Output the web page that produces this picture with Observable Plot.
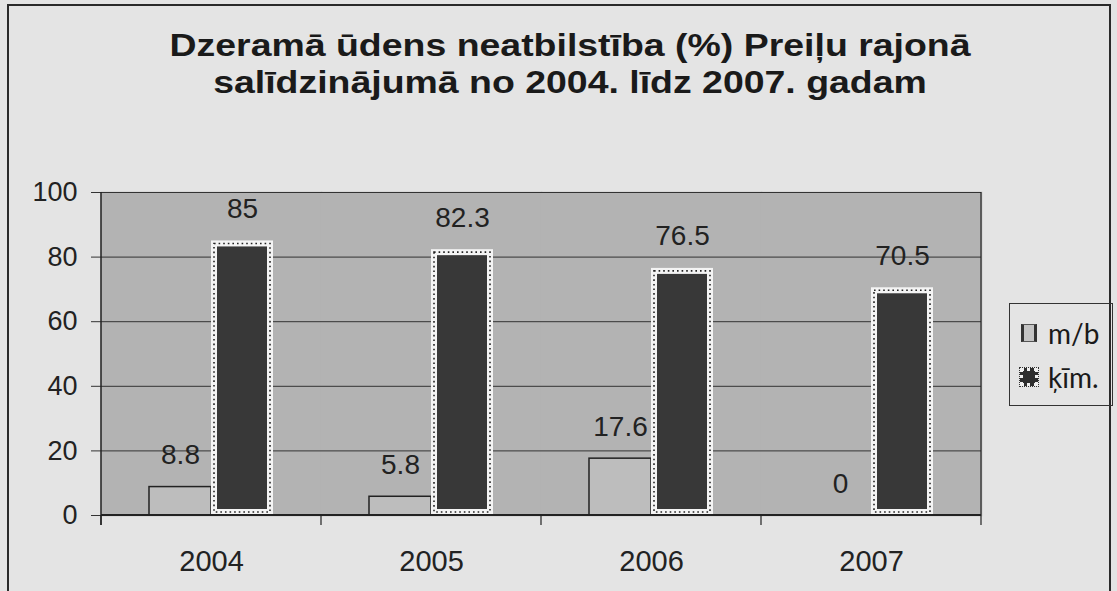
<!DOCTYPE html>
<html>
<head>
<meta charset="utf-8">
<script src="https://cdn.jsdelivr.net/npm/d3@7"></script>
<script src="https://cdn.jsdelivr.net/npm/@observablehq/plot@0.6"></script>
<style>
  html, body { margin: 0; padding: 0; background: #e4e4e4; }
  #wrap { position: relative; width: 1117px; height: 591px; overflow: hidden; background: #e4e4e4; font-family: "Liberation Sans", Arial, sans-serif; }
  #border { position: absolute; left: 7px; top: 4px; width: 1104px; height: 620px; border: 2px solid #2a2a2a; box-sizing: border-box; }
  #title { position: absolute; left: 570px; top: 27px; transform: translateX(-50%) scaleX(1.17); white-space: nowrap; text-align: center; font-weight: bold; font-size: 32px; line-height: 37px; color: #1a1a1a; }
  #chart { position: absolute; left: 0; top: 150px; }
  #legend { position: absolute; left: 1009px; top: 303px; width: 104px; height: 103px; border: 1.5px solid #333; box-sizing: border-box; font-family: Lato, "Open Sans", sans-serif; font-size: 28px; color: #1a1a1a; }
  .item { position: absolute; left: 11px; display: flex; align-items: center; }
  .sw { width: 16px; height: 18px; margin-right: 11px; box-sizing: border-box; }
</style>
</head>
<body>
<div id="wrap">
  <div id="border"></div>
  <div id="title">Dzeramā ūdens neatbilstība (%) Preiļu rajonā<br>salīdzinājumā no 2004. līdz 2007. gadam</div>
  <div id="chart"></div>
  <div id="legend"></div>
</div>
<script>
const years = ["2004", "2005", "2006", "2007"];
const series = ["m/b", "ķīm."];
const mbValues = [8.8, 5.8, 17.6, 0];
const kimValues = [85, 82.3, 76.5, 70.5];
const yTicks = [0, 20, 40, 60, 80, 100];

const data = [];
years.forEach((yr, i) => {
  data.push({year: yr, series: series[0], value: mbValues[i]});
  data.push({year: yr, series: series[1], value: kimValues[i]});
});
const mb = data.filter(d => d.series === series[0]);
const kim = data.filter(d => d.series === series[1]);

const chart = Plot.plot({
  width: 1117,
  height: 441,
  marginLeft: 100,
  marginRight: 135,
  marginTop: 42,
  marginBottom: 76,
  style: {background: "transparent", fontFamily: "Liberation Sans, Arial, sans-serif", color: "#222"},
  fx: {domain: years, padding: 0, label: null, axis: null},
  x: {domain: series, paddingInner: 0, paddingOuter: 0.75, axis: null},
  y: {domain: [0, 100], label: null},
  marks: [
    Plot.frame({fill: "#b3b3b3", stroke: "#b3b3b3", strokeWidth: 1.5}),
    Plot.ruleY(yTicks, {stroke: "#333", strokeWidth: 1}),
    Plot.axisY({ticks: yTicks, tickSize: 10, tickPadding: 14, fontSize: 27, stroke: "#333", label: null}),
    Plot.axisFx({anchor: "bottom", tickSize: 0, tickPadding: 35, fontSize: 29, label: null}),
    Plot.barY(mb, {fx: "year", x: "series", y: "value", fill: "#bdbdbd", stroke: "#222", strokeWidth: 1.5}),
    Plot.barY(kim, {fx: "year", x: "series", y: "value", fill: "#383838", stroke: "#f4f4f4", strokeWidth: 6, inset: 3}),
    Plot.barY(kim, {fx: "year", x: "series", y: "value", fill: "none", stroke: "#222", strokeWidth: 1.6, strokeDasharray: "1.6,3", inset: 3}),
    Plot.text(data, {fx: "year", x: "series", y: "value", text: d => String(d.value), lineAnchor: "bottom", dy: -23, fontSize: 28, fill: "#222"})
  ]
});
document.getElementById("chart").appendChild(chart);

// axis frame lines and category boundary ticks, positioned with the plot's own scales
const fx = chart.scale("fx"), y = chart.scale("y");
const svg = d3.select(chart);
const y0 = y.apply(0), y100 = y.apply(100);
const bounds = years.map(d => fx.apply(d)).concat([fx.apply(years[years.length - 1]) + fx.bandwidth]);
const g = svg.append("g").attr("stroke", "#222");
g.selectAll("line.b").data(bounds).join("line")
  .attr("x1", d => d).attr("x2", d => d).attr("y1", y0).attr("y2", y0 + 10).attr("stroke-width", 1.2);
g.append("line").attr("x1", bounds[0]).attr("x2", bounds[0]).attr("y1", y100).attr("y2", y0 + 10).attr("stroke-width", 1.5);
g.append("line").attr("x1", bounds[bounds.length - 1]).attr("x2", bounds[bounds.length - 1]).attr("y1", y100).attr("y2", y0).attr("stroke-width", 1.2);
g.append("line").attr("x1", bounds[0]).attr("x2", bounds[bounds.length - 1]).attr("y1", y0).attr("y2", y0).attr("stroke-width", 2);

// legend
const legend = document.getElementById("legend");
legend.innerHTML = `
  <div class="item" style="top:12px"><div class="sw" style="background:#c4c4c4;border-left:3px solid #333;border-right:3px solid #333;border-top:1px solid #555;border-bottom:1px solid #555"></div>${series[0]}</div>
  <div class="item" style="top:56px"><div class="sw" style="width:18px;height:18px;margin-left:-1px;margin-right:10px;background:#2e2e2e;border:3px dotted #f0f0f0;outline:1px dotted #333"></div>${series[1]}</div>`;
</script>
</body>
</html>
